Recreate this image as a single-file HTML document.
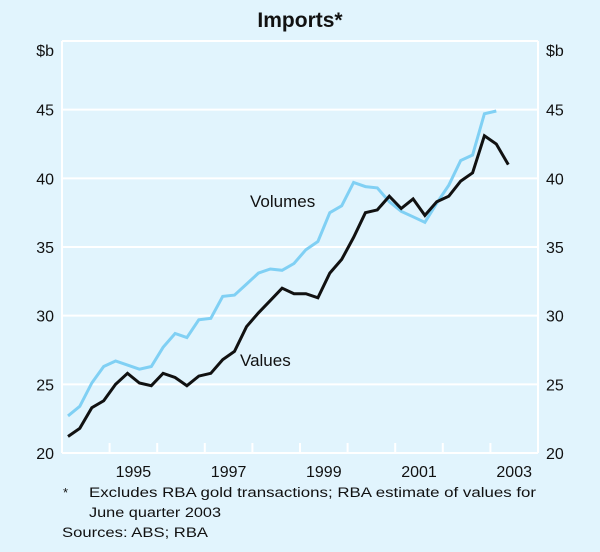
<!DOCTYPE html>
<html><head><meta charset="utf-8"><style>
body{margin:0;background:#e1f4fd;font-family:"Liberation Sans",sans-serif;}
svg{display:block}
</style></head><body>
<svg id="c" width="600" height="552" font-family="Liberation Sans, sans-serif">
<rect width="600" height="552" fill="#e1f4fd"/>
<text x="300" y="27" text-anchor="middle" font-size="21" font-weight="bold" fill="#111">Imports*</text>
<g id="grid"></g><g id="axes"></g><g id="lines"></g>
<text x="250" y="207" font-size="17" fill="#111">Volumes</text>
<text x="240" y="366" font-size="17" fill="#111">Values</text>
<text x="63" y="497" font-size="13" fill="#111">*</text>
<text x="89" y="497" font-size="13.5" fill="#111" textLength="447" lengthAdjust="spacingAndGlyphs">Excludes RBA gold transactions; RBA estimate of values for</text>
<text x="89" y="517" font-size="13.5" fill="#111" textLength="132" lengthAdjust="spacingAndGlyphs">June quarter 2003</text>
<text x="62" y="537" font-size="13.5" fill="#111" textLength="146" lengthAdjust="spacingAndGlyphs">Sources: ABS; RBA</text>
</svg>
<script>
const values=[21.2,21.8,23.3,23.8,25.0,25.8,25.1,24.9,25.8,25.5,24.9,25.6,25.8,26.8,27.4,29.2,30.2,31.1,32.0,31.6,31.6,31.3,33.1,34.1,35.7,37.5,37.7,38.7,37.8,38.5,37.3,38.3,38.7,39.8,40.4,43.1,42.5,41.0];
const volumes=[22.7,23.4,25.1,26.3,26.7,26.4,26.1,26.3,27.7,28.7,28.4,29.7,29.8,31.4,31.5,32.3,33.1,33.4,33.3,33.8,34.8,35.4,37.5,38.0,39.7,39.4,39.3,38.3,37.6,37.2,36.8,38.2,39.5,41.3,41.7,44.7,44.9];
const yTicks=[20,25,30,35,40,45];
const xLabels=[1995,1997,1999,2001,2003];
const startYear=1994;
const L=62,R=538,T=41,B=453,yMin=20,yMax=50,x0=1994,x1=2004;
const NS='http://www.w3.org/2000/svg';
const X=t=>L+(t-x0)/(x1-x0)*(R-L);
const Y=v=>B-(v-yMin)/(yMax-yMin)*(B-T);
function mk(tag,attrs,parent){const e=document.createElementNS(NS,tag);for(const k in attrs)e.setAttribute(k,attrs[k]);parent.appendChild(e);return e;}
const grid=document.getElementById('grid'),axes=document.getElementById('axes'),lines=document.getElementById('lines');
yTicks.concat([50]).forEach(v=>{
  const l=mk('line',{x1:L,x2:R,y1:Y(v),y2:Y(v),stroke:'#fff','stroke-width':2},grid);
  
  
});
yTicks.forEach(v=>{
  const a=mk('text',{x:L-8,y:Y(v)+6,'text-anchor':'end','font-size':16,fill:'#111'},axes);a.textContent=v;
  
  
  const b=mk('text',{x:R+8,y:Y(v)+6,'text-anchor':'start','font-size':16,fill:'#111'},axes);b.textContent=v;
  
  
});
[['left',L-8,'end'],['right',R+8,'start']].forEach(([s,x,a])=>{
  const t=mk('text',{x:x,y:Y(50)+15,'text-anchor':a,'font-size':16,fill:'#111'},axes);t.textContent='$b';
  
  
});
[L,R].forEach(x=>{
  const l=mk('line',{x1:x,x2:x,y1:T,y2:B,stroke:'#fff','stroke-width':2},grid);
  
  
});
for(let yr=x0+1;yr<x1;yr++){
  const l=mk('line',{x1:X(yr),x2:X(yr),y1:B,y2:B-10,stroke:'#fff','stroke-width':2},grid);
  
  
}
xLabels.forEach(yr=>{
  const t=mk('text',{x:X(yr+0.5),y:B+24,'text-anchor':'middle','font-size':16,fill:'#111'},axes);t.textContent=yr;
  
  
});
function pts(arr){return arr.map((v,i)=>X(startYear+i*0.25+0.125).toFixed(1)+','+Y(v).toFixed(1)).join(' ');}
const pv=mk('polyline',{points:pts(volumes),fill:'none',stroke:'#80d0f4','stroke-width':3,'stroke-linejoin':'miter'},lines);


const pl=mk('polyline',{points:pts(values),fill:'none',stroke:'#111','stroke-width':3,'stroke-linejoin':'miter'},lines);


</script>
</body></html>
